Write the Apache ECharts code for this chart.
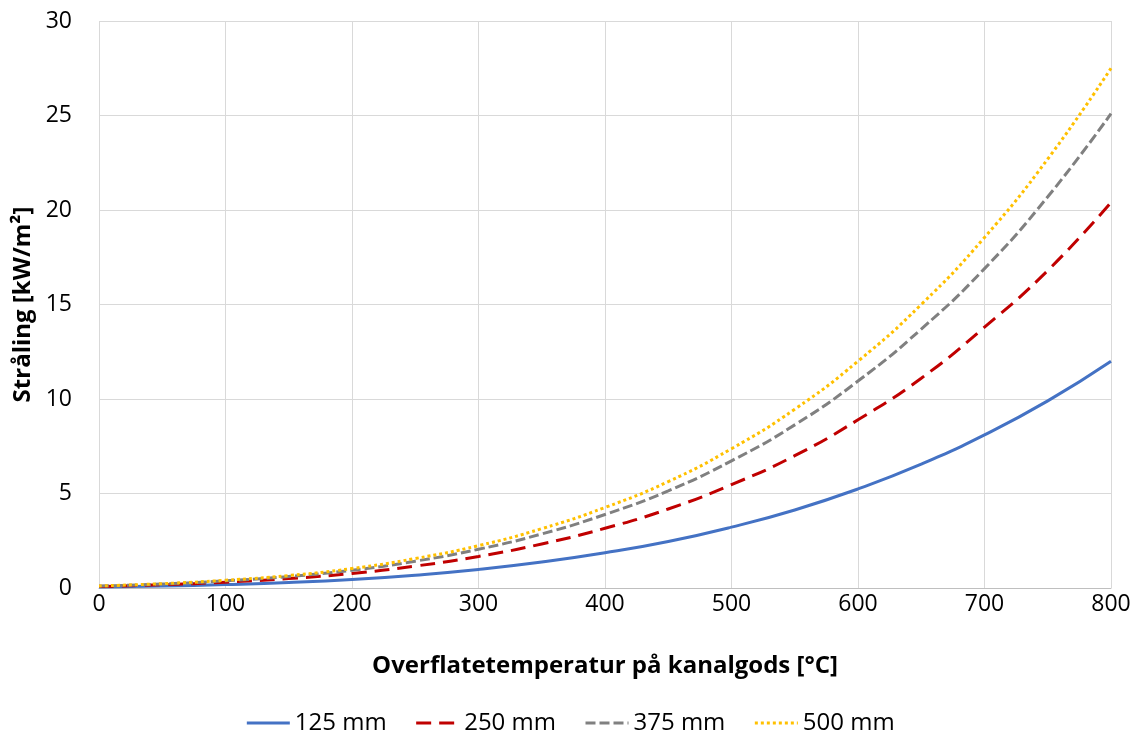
<!DOCTYPE html>
<html>
<head>
<meta charset="utf-8">
<script src="https://cdn.jsdelivr.net/npm/echarts@6/dist/echarts.min.js"></script>
<style>
  html, body { margin: 0; padding: 0; background: #fff; }
  #main { width: 1140px; height: 734px; }
</style>
</head>
<body>
<div id="main"></div>
<script>
// temperature on the x axis [°C]
var temps = [0, 50, 100, 150, 200, 250, 300, 350, 400, 450, 500, 550, 600, 650, 700, 750, 800];

// radiation [kW/m2] per duct size
var d125 = [0.05, 0.10, 0.18, 0.29, 0.45, 0.68, 0.98, 1.37, 1.86, 2.46, 3.22, 4.13, 5.24, 6.55, 8.10, 9.90, 12.0];
var d250 = [0.08, 0.17, 0.31, 0.50, 0.77, 1.16, 1.67, 2.33, 3.16, 4.18, 5.47, 7.00, 8.90, 11.1, 13.8, 16.8, 20.4];
var d375 = [0.10, 0.21, 0.38, 0.61, 0.94, 1.42, 2.05, 2.86, 3.89, 5.14, 6.73, 8.63, 10.95, 13.7, 16.9, 20.7, 25.1];
var d500 = [0.11, 0.23, 0.41, 0.66, 1.03, 1.56, 2.24, 3.14, 4.26, 5.63, 7.37, 9.46, 12.0, 15.0, 18.55, 22.7, 27.5];

var names = ['125 mm', '250 mm', '375 mm', '500 mm'];

function pairs(vals) {
  return temps.map(function (t, i) { return [t, vals[i]]; });
}

(function () {
  var myChart = echarts.init(document.getElementById('main'));
  var font = '"Open Sans", sans-serif';

  var option = {
    animation: false,
    textStyle: { fontFamily: font },
    grid: {
      left: 99,
      right: 29,
      top: 21,
      bottom: 146
    },
    legend: {
      bottom: -6,
      left: 'center',
      itemWidth: 43,
      itemHeight: 12,
      itemGap: 28,
      itemStyle: { opacity: 0 },
      lineStyle: { width: 3 },
      textStyle: { fontSize: 24, color: '#000', fontFamily: font },
      data: names
    },
    xAxis: {
      type: 'value',
      min: 0,
      max: 800,
      interval: 100,
      name: 'Overflatetemperatur på kanalgods [°C]',
      nameLocation: 'middle',
      nameGap: 66,
      nameTextStyle: { fontSize: 24, fontWeight: 'bold', color: '#000' },
      axisLine: { show: true, lineStyle: { color: '#bfbfbf', width: 1 } },
      axisTick: { show: false },
      axisLabel: { fontSize: 23, color: '#000', margin: 5 },
      splitLine: { show: true, lineStyle: { color: '#d9d9d9', width: 1 } }
    },
    yAxis: {
      type: 'value',
      min: 0,
      max: 30,
      interval: 5,
      name: 'Stråling [kW/m²]',
      nameLocation: 'middle',
      nameGap: 64,
      nameTextStyle: { fontSize: 24, fontWeight: 'bold', color: '#000' },
      axisLine: { show: false },
      axisTick: { show: false },
      axisLabel: { fontSize: 23, color: '#000', margin: 27 },
      splitLine: { show: true, lineStyle: { color: '#d9d9d9', width: 1 } }
    },
    series: [
      {
        name: names[0],
        type: 'line',
        smooth: true,
        symbol: 'none',
        data: pairs(d125),
        itemStyle: { color: '#4472C4' },
        lineStyle: { color: '#4472C4', width: 3 }
      },
      {
        name: names[1],
        type: 'line',
        smooth: true,
        symbol: 'none',
        data: pairs(d250),
        itemStyle: { color: '#C00000' },
        lineStyle: { color: '#C00000', width: 3, type: [15, 8] }
      },
      {
        name: names[2],
        type: 'line',
        smooth: true,
        symbol: 'none',
        data: pairs(d375),
        itemStyle: { color: '#808080' },
        lineStyle: { color: '#808080', width: 3, type: [10, 4] }
      },
      {
        name: names[3],
        type: 'line',
        smooth: true,
        symbol: 'none',
        data: pairs(d500),
        itemStyle: { color: '#FFC000' },
        lineStyle: { color: '#FFC000', width: 3, type: [3, 3] }
      }
    ]
  };

  myChart.setOption(option);
  window.addEventListener('resize', function () {
    myChart.resize();
  });
})();
</script>
</body>
</html>
